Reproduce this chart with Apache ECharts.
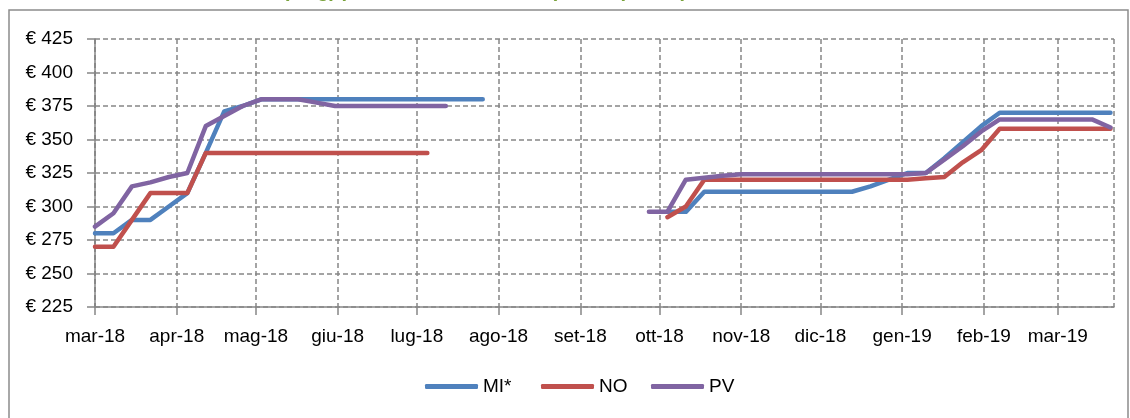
<!DOCTYPE html>
<html>
<head>
<meta charset="utf-8">
<script src="https://cdn.jsdelivr.net/npm/echarts@6/dist/echarts.min.js"></script>
<style>
  html, body { margin: 0; padding: 0; background: #ffffff; }
  #chart { width: 1130px; height: 418px; }
</style>
</head>
<body>
<div id="chart"></div>
<script>
// ---- data ----
const TITLE = "Prezzi medi del risone (€/kg) per le tre borse merci (media piazze)";
const SERIES_NAMES = ["MI*", "NO", "PV"];
const MONTH_LABELS = ["gen", "feb", "mar", "apr", "mag", "giu", "lug", "ago", "set", "ott", "nov", "dic"];
const Y_MIN = 225, Y_MAX = 425, Y_STEP = 25;

const WEEKS = [
  "2018-03-01","2018-03-08","2018-03-15","2018-03-22","2018-03-29","2018-04-05","2018-04-12","2018-04-19",
  "2018-04-26","2018-05-03","2018-05-10","2018-05-17","2018-05-24","2018-05-31","2018-06-07","2018-06-14",
  "2018-06-21","2018-06-28","2018-07-05","2018-07-12","2018-07-19","2018-07-26","2018-08-02","2018-08-09",
  "2018-08-16","2018-08-23","2018-08-30","2018-09-06","2018-09-13","2018-09-20","2018-09-27","2018-10-04",
  "2018-10-11","2018-10-18","2018-10-25","2018-11-01","2018-11-08","2018-11-15","2018-11-22","2018-11-29",
  "2018-12-06","2018-12-13","2018-12-20","2018-12-27","2019-01-03","2019-01-10","2019-01-17","2019-01-24",
  "2019-01-31","2019-02-07","2019-02-14","2019-02-21","2019-02-28","2019-03-07","2019-03-14","2019-03-21"
];

const MI = [
  280, 280, 290, 290, 300, 310, 340, 371,
  375, 380, 380, 380, 380, 380, 380, 380,
  380, 380, 380, 380, 380, 380, null, null,
  null, null, null, null, null, null, null, 296,
  296, 311, 311, 311, 311, 311, 311, 311,
  311, 311, 315, 320, 325, 325, 336, 348,
  360, 370, 370, 370, 370, 370, 370, 370
];

const NO = [
  270, 270, 290, 310, 310, 310, 340, 340,
  340, 340, 340, 340, 340, 340, 340, 340,
  340, 340, 340, null, null, null, null, null,
  null, null, null, null, null, null, null, 292,
  300, 320, 320, 320, 320, 320, 320, 320,
  320, 320, 320, 320, 320, 321, 322, 333,
  342, 358, 358, 358, 358, 358, 358, 358
];

const PV = [
  285, 295, 315, 318, 322, 325, 360, 367.5,
  375, 380, 380, 380, 377.5, 375, 375, 375,
  375, 375, 375, 375, null, null, null, null,
  null, null, null, null, null, null, 296, 296,
  320, 321.5, 323, 324, 324, 324, 324, 324,
  324, 324, 324, 324, 324, 325, 335, 345,
  356, 365, 365, 365, 365, 365, 365, 359
];

const X_START = "2018-03-01";
const X_END = "2019-03-22T08:00:00Z";

// ---- build chart ----
const COLORS = ["#4F81BD", "#C0504D", "#8064A2"];
const FONT = "Liberation Sans";
const GRID_COLOR = "#868686";

function toTime(s) { return new Date(s.length === 10 ? s + "T00:00:00Z" : s).getTime(); }
function pairs(values) {
  return WEEKS.map((w, i) => [toTime(w), values[i] === null ? "-" : values[i]]);
}

const chart = echarts.init(document.getElementById("chart"), null, { renderer: "canvas" });

const seriesValues = [MI, NO, PV];
const legendLefts = [425, 541, 651];

const option = {
  useUTC: true,
  animation: false,
  backgroundColor: "#ffffff",
  graphic: [
    {
      type: "rect",
      shape: { x: 9, y: 10, width: 1119, height: 430 },
      style: { fill: "none", stroke: "#8c8c8c", lineWidth: 1.5 },
      silent: true
    },
    {
      type: "text",
      x: 67, y: -9,
      style: {
        text: TITLE,
        fill: "#79A23A",
        font: "bold 20px '" + FONT + "'",
        textAlign: "left",
        textVerticalAlign: "middle"
      },
      silent: true
    }
  ],
  grid: { left: 95, right: 16, top: 39, bottom: 111, containLabel: false },
  legend: SERIES_NAMES.map((n, i) => ({
    data: [n],
    left: legendLefts[i],
    top: 377,
    icon: "roundRect",
    itemWidth: 53,
    itemHeight: 5,
    itemGap: 0,
    padding: 0,
    textStyle: { fontFamily: FONT, fontSize: 19, color: "#000", padding: [2, 0, 0, 0] },
    selectedMode: false
  })),
  xAxis: {
    type: "time",
    min: toTime(X_START),
    max: toTime(X_END),
    splitNumber: 13,
    minInterval: 28 * 86400000,
    maxInterval: 31 * 86400000,
    axisLine: { show: true, lineStyle: { color: GRID_COLOR, width: 1.5 } },
    axisTick: { show: true, length: 8, lineStyle: { color: GRID_COLOR, width: 1.5 } },
    splitLine: { show: true, lineStyle: { color: GRID_COLOR, width: 1.5, type: [5, 3] } },
    axisLabel: {
      color: "#000",
      fontFamily: FONT,
      fontSize: 19,
      margin: 20,
      hideOverlap: false,
      formatter: function (v) {
        const d = new Date(v);
        return MONTH_LABELS[d.getUTCMonth()] + "-" + String(d.getUTCFullYear()).slice(2);
      }
    }
  },
  yAxis: {
    type: "value",
    min: Y_MIN,
    max: Y_MAX,
    interval: Y_STEP,
    axisLine: { show: true, lineStyle: { color: GRID_COLOR, width: 1.5 } },
    axisTick: { show: true, length: 8, lineStyle: { color: GRID_COLOR, width: 1.5 } },
    splitLine: { show: true, lineStyle: { color: GRID_COLOR, width: 1.5, type: [5, 3] } },
    axisLabel: {
      color: "#000",
      fontFamily: FONT,
      fontSize: 19,
      margin: 22,
      formatter: function (v) { return "€ " + v; }
    }
  },
  series: SERIES_NAMES.map((n, i) => ({
    name: n,
    type: "line",
    data: pairs(seriesValues[i]),
    showSymbol: false,
    symbol: "none",
    connectNulls: false,
    color: COLORS[i],
    lineStyle: { color: COLORS[i], width: 4.5, cap: "round", join: "round" },
    z: 3 + i
  }))
};

chart.setOption(option);
</script>
</body>
</html>
